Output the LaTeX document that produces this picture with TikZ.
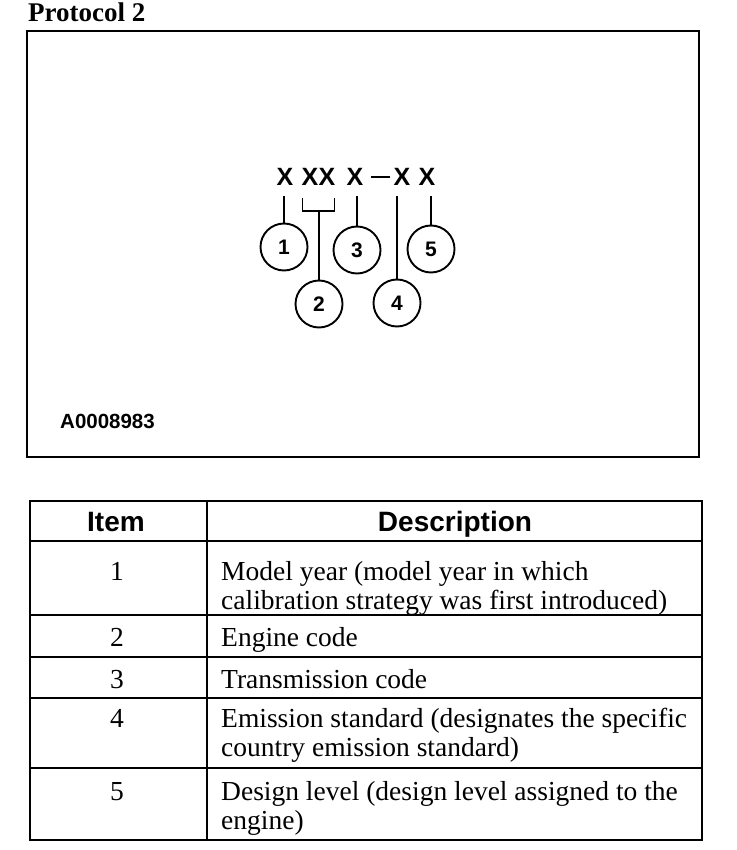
\documentclass[tikz,border=0pt]{standalone}
\usepackage{fontspec}
\setmainfont{Liberation Serif}
\setsansfont{Liberation Sans}
\usetikzlibrary{positioning,calc}

\begin{document}
\begin{tikzpicture}[
  x=1pt, y=-1pt,
  frame/.style={
    draw=black,
    line width=2.2pt
  },
  leader/.style={line width=1.9pt},
  codechar/.style={
    inner sep=0pt,
    font=\sffamily\bfseries\fontsize{25}{28}\selectfont
  },
  callout/.style={
    circle,
    draw=black,
    line width=1.9pt,
    minimum size=47pt,
    inner sep=0pt,
    font=\sffamily\bfseries\fontsize{21}{24}\selectfont
  },
  cellhead/.style={
    inner sep=0pt,
    anchor=base,
    font=\sffamily\bfseries\fontsize{28}{30}\selectfont
  },
  cellnum/.style={
    inner sep=0pt,
    anchor=base,
    font=\fontsize{27.5}{29.5}\selectfont
  },
  celltext/.style={
    inner sep=0pt,
    anchor=base west,
    align=flush left,
    text width=480pt,
    font=\fontsize{27.5}{29.5}\selectfont
  }
]
  \useasboundingbox (0,0) rectangle (736,850);

  % Title and figure frame
  \node[anchor=base west, inner sep=0pt, font=\bfseries\fontsize{27}{30}\selectfont] (title) at (28,22) {Protocol 2};
  \draw[frame] (27,31) rectangle (699,457);

  % --- Code pattern ---
  \node[codechar] (x1) at (285,177) {X};
  \node[codechar] (x2) at (310,177) {X};
  \node[codechar] (x3) at (327,177) {X};
  \node[codechar] (x4) at (355,177) {X};
  \node[fill=black, minimum width=19pt, minimum height=2.6pt, inner sep=0pt] (dash) at (380,177) {};
  \node[codechar] (x5) at (402,177) {X};
  \node[codechar] (x6) at (427,177) {X};

  % --- Callout circles ---
  \node[callout] (c1) at (284,247) {1};
  \node[callout] (c2) at (319,304) {2};
  \node[callout] (c3) at (357,250) {3};
  \node[callout] (c4) at (397,303) {4};
  \node[callout] (c5) at (431,249) {5};

  % Leader lines
  \draw[leader] (c1.north) -- ([yshift=-10pt]c1.north |- x1.south);
  \draw[leader] ($(x2.south west)+(1,12)$) -- ++(0,13) -| ($(x3.south east)+(-1,12)$);
  \coordinate (brk) at ($(x2.south)!0.5!(x3.south)+(0,25)$);
  \draw[leader] (c2.north) -- (c2.north |- brk);
  \draw[leader] (c3.north) -- ([yshift=-10pt]c3.north |- x4.south);
  \draw[leader] (c4.north) -- ([yshift=-10pt]c4.north |- x5.south);
  \draw[leader] (c5.north) -- ([yshift=-10pt]c5.north |- x6.south);

  \node[anchor=base west, inner sep=0pt, font=\sffamily\bfseries\fontsize{20.5}{22}\selectfont] (figid) at (60,428) {A0008983};

  % --- Table ---
  \draw[frame] (30,501) rectangle (702,840);
  \draw[frame] (207,501) -- (207,840);
  \draw[frame] (30,541) -- (702,541);
  \draw[frame] (30,615) -- (702,615);
  \draw[frame] (30,657) -- (702,657);
  \draw[frame] (30,698) -- (702,698);
  \draw[frame] (30,768) -- (702,768);

  \node[cellhead] (hitem) at (116,531) {Item};
  \node[cellhead] (hdesc) at (455,531) {Description};

  \node[cellnum] (n1) at (117,580) {1};
  \node[celltext] (d1) at (221,580) {Model year (model year in which\\calibration strategy was first introduced)};
  \node[cellnum] (n2) at (117,646) {2};
  \node[celltext] (d2) at (221,646) {Engine code};
  \node[cellnum] (n3) at (117,688) {3};
  \node[celltext] (d3) at (221,688) {Transmission code};
  \node[cellnum] (n4) at (117,727) {4};
  \node[celltext] (d4) at (221,727) {Emission standard (designates the specific\\country emission standard)};
  \node[cellnum] (n5) at (117,800) {5};
  \node[celltext] (d5) at (221,800) {Design level (design level assigned to the\\engine)};

\end{tikzpicture}
\end{document}
